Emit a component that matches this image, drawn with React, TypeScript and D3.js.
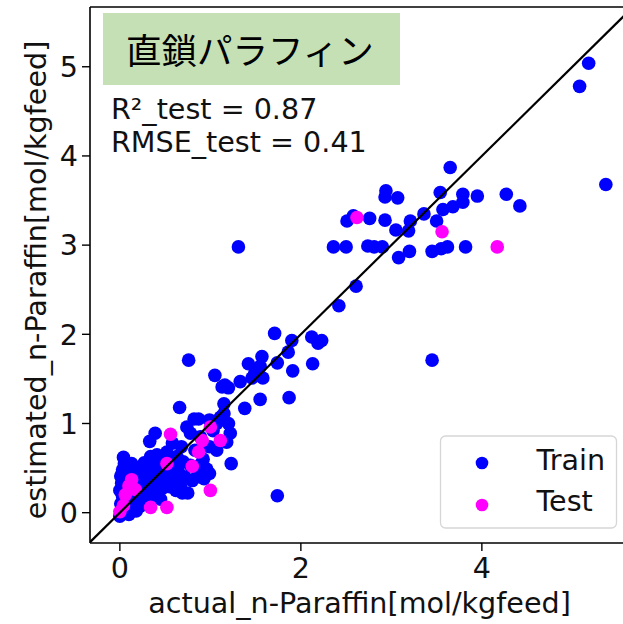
import React from "react";
import * as d3 from "d3";

// Parity plot: estimated vs actual n-paraffin content (mol/kgfeed)

const trainActual: number[] = [
  // dense cluster near the origin
  0.00, 0.02, 0.01, 0.03, 0.00, 0.02, 0.01, 0.03, 0.05, 0.04, 0.06, 0.08, 0.10, 0.07, 0.09, 0.08,
  0.12, 0.15, 0.18, 0.20, 0.22, 0.14, 0.17, 0.12, 0.15, 0.13, 0.19, 0.22, 0.24, 0.26, 0.28, 0.25, 0.27, 0.30, 0.30, 0.29,
  0.33, 0.34, 0.35, 0.37, 0.33, 0.36, 0.39, 0.40, 0.42, 0.39, 0.41, 0.44, 0.45, 0.47, 0.48, 0.44, 0.50, 0.50,
  0.52, 0.53, 0.55, 0.57, 0.58, 0.59, 0.61, 0.62, 0.63, 0.65, 0.66, 0.67, 0.68, 0.69, 0.70, 0.72,
  0.74, 0.75, 0.76, 0.78, 0.78, 0.80, 0.82, 0.83, 0.85, 0.87, 0.88, 0.89, 0.92, 0.93, 0.95, 0.96, 0.99, 0.99, 0.99,
  1.03, 1.07, 1.07, 1.11, 1.15, 1.18, 1.20, 1.22, 1.23, 1.15, 1.13, 1.16, 1.20, 1.05,
  // middle range
  1.33, 1.38, 1.42, 1.46, 1.49, 1.55, 1.55, 1.57, 1.58, 1.74, 1.71, 1.86, 1.87, 1.90, 1.91, 2.12, 2.13, 2.19, 2.23,
  1.74, 3.45, 2.42, 2.61, 1.31,
  // upper range
  5.18, 5.08, 5.37, 3.65, 3.54, 4.27, 4.42, 3.95, 3.79, 3.79, 3.68, 3.57, 3.36, 3.50, 3.21, 3.19, 3.05,
  2.94, 2.93, 3.07, 2.93, 2.76, 2.51, 2.58, 2.36, 2.50, 2.74, 2.81, 2.90, 3.08, 3.20, 3.45, 3.55, 3.62, 3.82,
];

const trainEstimated: number[] = [
  -0.04, 0.02, 0.10, 0.18, 0.25, 0.33, 0.41, 0.48, 0.55, 0.62, 0.08, 0.00, -0.02, 0.28, 0.42, 0.50,
  0.05, 0.10, 0.02, 0.14, 0.07, 0.22, 0.30, 0.38, 0.46, 0.55, 0.50, 0.40, 0.25, 0.18, 0.32, 0.48, 0.56, 0.45, 0.12, 0.22,
  0.80, 0.63, 0.52, 0.40, 0.30, 0.20, 0.25, 0.48, 0.58, 0.89, 0.65, 0.35, 0.15, 0.45, 0.28, 0.55, 0.63, 0.38,
  0.68, 0.50, 0.29, 0.42, 0.78, 0.36, 0.55, 0.25, 0.63, 0.45, 1.18, 0.31, 0.74, 0.22, 0.57, 0.40,
  0.96, 0.22, 1.71, 0.89, 0.53, 0.36, 1.05, 0.70, 0.40, 1.05, 0.53, 0.85, 0.60, 0.38, 0.75, 0.49, 1.04, 0.74, 0.44,
  0.92, 0.70, 1.00, 1.07, 1.11, 0.79, 1.00, 0.89, 0.55, 1.22, 1.41, 1.43, 1.40, 1.54,
  1.47, 1.17, 1.67, 1.51, 1.56, 1.27, 1.64, 1.75, 1.51, 1.68, 2.01, 1.80, 1.29, 1.93, 1.59, 1.97, 1.67, 1.90, 1.93,
  0.19, 1.71, 2.32, 2.54, 2.98,
  5.04, 4.78, 3.68, 3.87, 3.59, 3.57, 3.44, 3.55, 3.57, 3.48, 3.43, 3.40, 3.35, 3.27, 3.27, 3.16, 3.17,
  3.61, 3.54, 3.53, 3.28, 3.30, 3.27, 3.33, 2.98, 2.98, 2.99, 2.98, 2.98, 2.86, 2.93, 2.93, 2.96, 2.98, 2.98,
];

const testActual: number[] = [
  0.00, 0.04, 0.06, 0.13, 0.17, 0.10, 0.34, 0.52, 0.52, 0.56, 0.80, 0.87, 0.91, 1.00, 1.11, 1.00,
  2.62, 3.56, 4.17,
];

const testEstimated: number[] = [
  0.01, 0.08, 0.20, 0.37, 0.26, 0.30, 0.06, 0.06, 0.55, 0.88, 0.52, 0.68, 0.81, 0.96, 0.81, 0.25,
  3.31, 3.15, 2.98,
];

const xTicks: number[] = [0, 2, 4];
const yTicks: number[] = [0, 1, 2, 3, 4, 5];

const chartTitle = "直鎖パラフィン";
const statLines: string[] = ["R²_test = 0.87", "RMSE_test = 0.41"];
const seriesNames: string[] = ["Train", "Test"];
const xLabel = "actual_n-Paraffin[mol/kgfeed]";
const yLabel = "estimated_n-Paraffin[mol/kgfeed]";

const W = 623;
const H = 624;
const plot = { left: 90, top: 7, right: 633, bottom: 543 };
const FONT = "DejaVu Sans, sans-serif";
const FS = 28.6;
const R = 6.8;
const BLUE = "#0000ff";
const MAGENTA = "#ff00ff";

export default function App() {
  const x = d3.scaleLinear().domain([-0.33, 5.67]).range([plot.left, plot.right]);
  const y = d3.scaleLinear().domain([-0.34, 5.67]).range([plot.bottom, plot.top]);

  const train = trainActual.map((a, i) => [a, trainEstimated[i]] as [number, number]);
  const test = testActual.map((a, i) => [a, testEstimated[i]] as [number, number]);

  const diag = d3.line<number>().x((v) => x(v)).y((v) => y(v))([-0.33, 5.67]) || "";

  const legend = { x: 440.5, y: 436, w: 176, h: 92 };

  return (
    <svg
      width={W}
      height={H}
      style={{ position: "absolute", left: 0, top: 0, background: "#fff" }}
      fontFamily={FONT}
    >
      <defs>
        <clipPath id="plotArea">
          <rect x={plot.left} y={plot.top} width={plot.right - plot.left} height={plot.bottom - plot.top} />
        </clipPath>
      </defs>
      <rect x={0} y={0} width={W} height={H} fill="#fff" />

      <g clipPath="url(#plotArea)">
        {train.map(([a, e], i) => (
          <circle key={`tr${i}`} cx={x(a)} cy={y(e)} r={R} fill={BLUE} />
        ))}
        {test.map(([a, e], i) => (
          <circle key={`te${i}`} cx={x(a)} cy={y(e)} r={R} fill={MAGENTA} />
        ))}
        <path d={diag} stroke="#000" strokeWidth={2.2} fill="none" />
      </g>

      {/* spines */}
      <line x1={plot.left} x2={plot.left} y1={plot.top} y2={plot.bottom} stroke="#000" strokeWidth={1.6} />
      <line x1={plot.left} x2={plot.right} y1={plot.top} y2={plot.top} stroke="#000" strokeWidth={1.6} />
      <line x1={plot.left} x2={plot.right} y1={plot.bottom} y2={plot.bottom} stroke="#000" strokeWidth={1.6} />

      {/* x ticks */}
      {xTicks.map((t) => (
        <g key={`xt${t}`}>
          <line x1={x(t)} x2={x(t)} y1={plot.bottom} y2={plot.bottom + 8} stroke="#000" strokeWidth={1.4} />
          <text x={x(t)} y={578} textAnchor="middle" fontSize={FS} fill="#111">
            {t}
          </text>
        </g>
      ))}
      {/* y ticks */}
      {yTicks.map((t) => (
        <g key={`yt${t}`}>
          <line x1={plot.left - 8} x2={plot.left} y1={y(t)} y2={y(t)} stroke="#000" strokeWidth={1.4} />
          <text x={78} y={y(t)} dy="0.36em" textAnchor="end" fontSize={FS} fill="#111">
            {t}
          </text>
        </g>
      ))}

      {/* axis labels */}
      <text x={(147 + 572) / 2} y={613} textAnchor="middle" fontSize={FS} fill="#111">
        {xLabel}
      </text>
      <text
        transform={`translate(46, ${(plot.top + plot.bottom) / 2 + 5}) rotate(-90)`}
        textAnchor="middle"
        fontSize={FS}
        fill="#111"
      >
        {yLabel}
      </text>

      {/* title box */}
      <rect x={103} y={13} width={297} height={72} fill="#c5e0b4" />
      <text x={126} y={64} fontSize={35.5} fontFamily="Noto Sans CJK JP, sans-serif" fill="#000">
        {chartTitle}
      </text>

      {/* statistics */}
      {statLines.map((s, i) => (
        <text key={s} x={111} y={119 + i * 33} fontSize={FS} fill="#111">
          {s}
        </text>
      ))}

      {/* legend */}
      <rect
        x={legend.x}
        y={legend.y}
        width={legend.w}
        height={legend.h}
        rx={5}
        fill="#fff"
        fillOpacity={0.8}
        stroke="#d6d6d6"
        strokeWidth={1.3}
      />
      {seriesNames.map((n, i) => (
        <g key={n}>
          <circle cx={482} cy={463 + i * 42} r={6.3} fill={i === 0 ? BLUE : MAGENTA} />
          <text x={536.5} y={470 + i * 41} fontSize={FS} fill="#111">
            {n}
          </text>
        </g>
      ))}
    </svg>
  );
}
